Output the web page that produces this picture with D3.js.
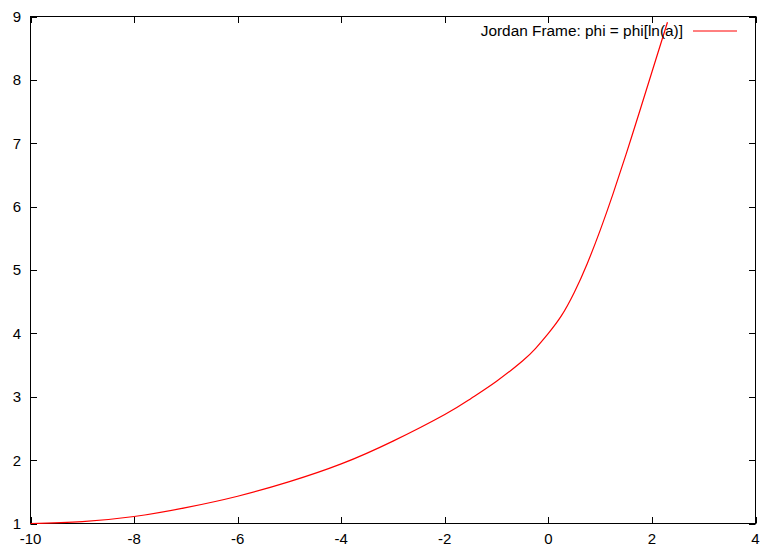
<!DOCTYPE html>
<html>
<head>
<meta charset="utf-8">
<script src="https://cdn.jsdelivr.net/npm/d3@7"></script>
<style>
  html, body { margin: 0; padding: 0; background: #fff; }
  svg { display: block; }
  text { font-family: "Liberation Sans", Arial, sans-serif; font-size: 15px; fill: #000; }
</style>
</head>
<body>
<svg id="chart" width="761" height="549"></svg>
<script>
// Data
const lnA = [-10, -9, -8, -7, -6, -5, -4, -3, -2, -1.5, -1, -0.5, -0.25, 0, 0.25, 0.5, 0.75, 1.0, 1.25, 1.5, 1.75, 2.0, 2.3];
const phi = [1.00, 1.03, 1.11, 1.25, 1.43, 1.66, 1.94, 2.30, 2.72, 2.97, 3.245, 3.565, 3.76, 4.00, 4.275, 4.645, 5.10, 5.625, 6.205, 6.825, 7.47, 8.125, 8.91];
const xTicks = [-10, -8, -6, -4, -2, 0, 2, 4];
const yTicks = [1, 2, 3, 4, 5, 6, 7, 8, 9];
const legendLabel = "Jordan Frame: phi = phi[ln(a)]";

(function () {
const svg = d3.select("#chart");
const mLeft = 30.5, mRight = 755.5, mTop = 16.5, mBottom = 523.5;

const x = d3.scaleLinear().domain([-10, 4]).range([mLeft, mRight]);
const y = d3.scaleLinear().domain([1, 9]).range([mBottom, mTop]);
const tickLen = 6.5;

// frame
svg.append("rect")
  .attr("x", mLeft).attr("y", mTop)
  .attr("width", mRight - mLeft).attr("height", mBottom - mTop)
  .attr("fill", "none").attr("stroke", "#000").attr("stroke-width", 1);

// x ticks (bottom + mirrored top)
const gx = svg.append("g");
xTicks.forEach(t => {
  const px = Math.round(x(t)) + 0.5;
  gx.append("line").attr("x1", px).attr("x2", px).attr("y1", mBottom).attr("y2", mBottom - tickLen).attr("stroke", "#000");
  gx.append("line").attr("x1", px).attr("x2", px).attr("y1", mTop).attr("y2", mTop + tickLen).attr("stroke", "#000");
  gx.append("text").attr("x", x(t)).attr("y", 544).attr("text-anchor", "middle").text(t);
});

// y ticks (left + mirrored right)
const gy = svg.append("g");
yTicks.forEach(t => {
  const py = Math.round(y(t)) + 0.5;
  gy.append("line").attr("x1", mLeft).attr("x2", mLeft + tickLen).attr("y1", py).attr("y2", py).attr("stroke", "#000");
  gy.append("line").attr("x1", mRight).attr("x2", mRight - tickLen).attr("y1", py).attr("y2", py).attr("stroke", "#000");
  gy.append("text").attr("x", 21).attr("y", y(t)).attr("dy", "0.36em").attr("text-anchor", "end").text(t);
});

// curve
const data = lnA.map((v, i) => [v, phi[i]]);
const line = d3.line().x(d => x(d[0])).y(d => y(d[1])).curve(d3.curveNatural);
svg.append("path").datum(data)
  .attr("d", line)
  .attr("fill", "none").attr("stroke", "#ff0000").attr("stroke-width", 1.2);

// legend
svg.append("text").attr("x", 683).attr("y", 36).attr("text-anchor", "end")
  .style("font-size", "15.4px").text(legendLabel);
svg.append("line").attr("x1", 693).attr("x2", 737).attr("y1", 31).attr("y2", 31)
  .attr("stroke", "#ff0000").attr("stroke-width", 1);
})();
</script>
</body>
</html>
